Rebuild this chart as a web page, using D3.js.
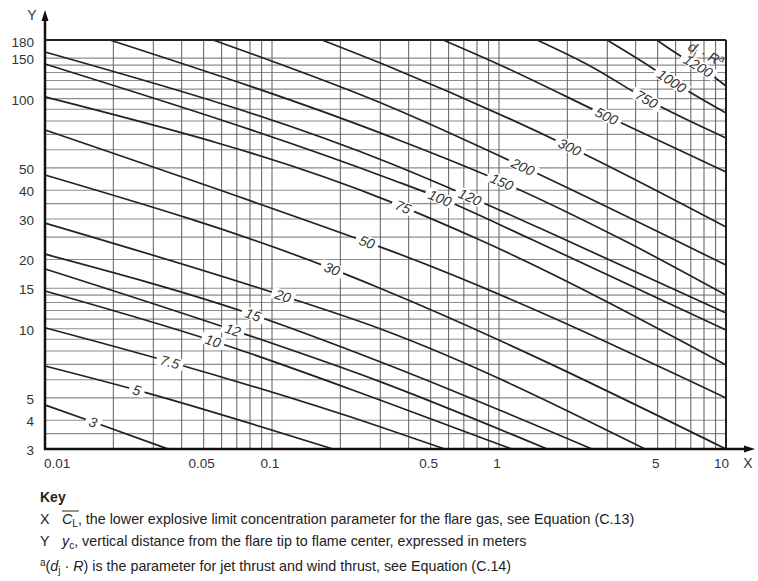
<!DOCTYPE html>
<html>
<head>
<meta charset="utf-8">
<script src="https://cdn.jsdelivr.net/npm/d3@7"></script>
<style>
  body { margin: 0; background: #fff; }
  text { font-family: "Liberation Sans", Arial, sans-serif; }
</style>
</head>
<body>
<svg id="chart" width="758" height="581"></svg>
<script>
//////////// DATA ////////////

var xTickLabels = [0.01, 0.05, 0.1, 0.5, 1, 5, 10];
var yTickLabels = [3, 4, 5, 10, 15, 20, 30, 40, 50, 100, 150, 180];

var xGrid = [0.02, 0.03, 0.04, 0.05, 0.06, 0.07, 0.08, 0.09, 0.1,
             0.2, 0.3, 0.4, 0.5, 0.6, 0.7, 0.8, 0.9, 1,
             2, 3, 4, 5, 6, 7, 8, 9];
var yGrid = [3.5, 4, 5, 6, 7, 8, 9, 10, 11, 12, 13, 14, 15, 20, 25, 30, 35, 40,
             50, 60, 70, 80, 90, 100, 110, 120, 130, 140, 150];

// parameter (dj . R) of each curve
var params = ["3", "5", "7.5", "10", "12", "15", "20", "30", "50", "75",
              "100", "120", "150", "200", "300", "500", "750", "1000", "1200"];

// points  [x, y]
var c3    = [[0.01, 4.66], [0.0163, 3.93], [0.0348, 3.0]];
var c5    = [[0.01, 6.89], [0.0254, 5.41], [0.1856, 3.0]];
var c7_5  = [[0.01, 10.1], [0.0355, 7.17], [0.299, 3.75], [0.578, 3.0]];
var c10   = [[0.01, 14.6], [0.055, 8.85], [0.299, 4.90], [1.14, 3.0]];
var c12   = [[0.01, 18.2], [0.0673, 9.87], [0.299, 5.89], [1.63, 3.0]];
var c15   = [[0.01, 21.1], [0.0825, 11.5], [0.299, 7.19], [2.57, 3.0]];
var c20   = [[0.01, 28.8], [0.1118, 13.9], [0.299, 10.0], [4.40, 3.0]];
var c30   = [[0.01, 46.6], [0.184, 18.2], [0.299, 15.0], [10, 3.0]];
var c50   = [[0.01, 73.1], [0.262, 23.8], [0.299, 22.7], [10, 5.0]];
var c75   = [[0.01, 101.8], [0.331, 35.7], [0.825, 24.3], [10, 6.96]];
var c100  = [[0.01, 141.6], [0.331, 44.8], [0.55, 37.0], [1.41, 24.3], [10, 9.87]];
var c120  = [[0.01, 159.6], [0.331, 52.4], [0.745, 37.4], [1.97, 24.3], [10, 11.7]];
var c150  = [[0.0193, 180], [0.331, 68.4], [1.03, 43.5], [3.52, 24.3], [10, 14.0]];
var c200  = [[0.055, 180], [0.331, 92.3], [1.276, 50.6], [5.96, 24.3], [10, 18.9]];
var c300  = [[0.166, 180], [0.331, 137.4], [2.05, 61.7], [10, 27.7]];
var c500  = [[0.567, 180], [1.01, 140.2], [2.98, 84.1], [10, 48.0]];
var c750  = [[1.47, 180], [2.52, 138.8], [4.47, 99.4], [10, 67.5]];
var c1000 = [[2.99, 180], [4.71, 136.4], [5.77, 119.4], [10, 86.7]];
var c1200 = [[4.95, 180], [6.49, 150.7], [7.55, 138.8], [10, 113.6]];

// x value where each curve carries its label
var labelAt = [0.0163, 0.0254, 0.0355, 0.055, 0.0673, 0.0825, 0.1118, 0.184, 0.262, 0.378,
               0.55, 0.745, 1.03, 1.276, 2.05, 2.98, 4.47, 5.77, 7.55];

var allCurves = [c3, c5, c7_5, c10, c12, c15, c20, c30, c50, c75,
                 c100, c120, c150, c200, c300, c500, c750, c1000, c1200];

//////////// CHART ////////////

var svg = d3.select("#chart");

var x = d3.scaleLog().domain([0.01, 10]).range([45, 726]);
var y = d3.scaleLog().domain([3, 180]).range([449, 40]);

// grid
var grid = svg.append("g").attr("class", "grid");
grid.selectAll(".hg").data(yGrid).enter().append("line")
    .attr("x1", x(0.01)).attr("x2", x(10))
    .attr("y1", function(d) { return y(d); }).attr("y2", function(d) { return y(d); })
    .attr("stroke", "#8c8c8c").attr("stroke-width", 1.2);
grid.selectAll(".vg").data(xGrid).enter().append("line")
    .attr("y1", y(3)).attr("y2", y(180))
    .attr("x1", function(d) { return x(d); }).attr("x2", function(d) { return x(d); })
    .attr("stroke", "#5e5e5e").attr("stroke-width", 1);

// curves
var line = d3.line()
    .x(function(d) { return x(d[0]); })
    .y(function(d) { return y(d[1]); })
    .curve(d3.curveMonotoneX);

var curveG = svg.append("g");
var labelG = svg.append("g");

allCurves.forEach(function(c, i) {
    var p = curveG.append("path").datum(c)
        .attr("d", line)
        .attr("fill", "none")
        .attr("stroke", "#222")
        .attr("stroke-width", 1.7);

    // find the point of the path at the label's x
    var node = p.node(), len = node.getTotalLength(), tx = x(labelAt[i]);
    var lo = 0, hi = len;
    for (var k = 0; k < 30; k++) {
        var mid = (lo + hi) / 2;
        if (node.getPointAtLength(mid).x < tx) lo = mid; else hi = mid;
    }
    var pt = node.getPointAtLength(lo);
    var a = node.getPointAtLength(Math.max(0, lo - 5)),
        b = node.getPointAtLength(Math.min(len, lo + 5));
    var ang = Math.atan2(b.y - a.y, b.x - a.x) * 180 / Math.PI;

    var g = labelG.append("g")
        .attr("transform", "translate(" + pt.x + "," + pt.y + ") rotate(" + ang + ")");
    var t = g.append("text")
        .attr("text-anchor", "middle")
        .attr("dy", "0.36em")
        .style("font-size", "14px")
        .style("font-style", "italic")
        .attr("fill", "#333")
        .text(params[i]);
    var w = t.node().getComputedTextLength();
    g.insert("rect", "text")
        .attr("x", -w / 2 - 4).attr("y", -6)
        .attr("width", w + 8).attr("height", 12)
        .attr("fill", "#fff");

    // header of the parameter labels, above the last one
    if (i == allCurves.length - 1) {
        var h = labelG.append("text")
            .attr("transform", "translate(" + (pt.x + 8) + "," + (pt.y - 12) + ") rotate(" + (ang - 3) + ")")
            .attr("text-anchor", "middle")
            .attr("dy", "0.36em")
            .style("font-size", "14px")
            .attr("fill", "#333");
        h.append("tspan").style("font-style", "italic").text("d");
        h.append("tspan").attr("dy", 3).style("font-size", "10px").text("j");
        h.append("tspan").attr("dy", -3).text(" · ");
        h.append("tspan").style("font-style", "italic").text("R");
        h.append("tspan").attr("dy", -5).style("font-size", "10px").text("a");
    }
});

// border (top and right)
svg.append("line").attr("x1", x(0.01)).attr("x2", x(10)).attr("y1", y(180)).attr("y2", y(180))
    .attr("stroke", "#222").attr("stroke-width", 2);
svg.append("line").attr("x1", x(10)).attr("x2", x(10)).attr("y1", y(180)).attr("y2", y(3))
    .attr("stroke", "#222").attr("stroke-width", 2);

// axes with arrows
svg.append("line").attr("x1", x(0.01)).attr("x2", x(0.01)).attr("y1", y(3) + 1).attr("y2", 18)
    .attr("stroke", "#111").attr("stroke-width", 2.5);
svg.append("path").attr("d", "M" + (x(0.01) - 3.5) + ",21 L" + x(0.01) + ",10 L" + (x(0.01) + 3.5) + ",21 Z")
    .attr("fill", "#111");
svg.append("line").attr("x1", x(0.01) - 1).attr("x2", 747).attr("y1", y(3)).attr("y2", y(3))
    .attr("stroke", "#111").attr("stroke-width", 2.5);
svg.append("path").attr("d", "M744," + (y(3) - 3.5) + " L755," + y(3) + " L744," + (y(3) + 3.5) + " Z")
    .attr("fill", "#111");

svg.append("text").attr("x", 32).attr("y", 15).attr("dy", "0.36em")
    .attr("text-anchor", "middle").style("font-size", "14px").attr("fill", "#333").text("Y");
svg.append("text").attr("x", 748).attr("y", 463).attr("dy", "0.36em")
    .attr("text-anchor", "middle").style("font-size", "14px").attr("fill", "#333").text("X");

// tick labels
svg.selectAll(".ylab").data(yTickLabels).enter().append("text")
    .attr("x", 34)
    .attr("y", function(d) { return y(d) + (d == 180 ? 2 : 1); })
    .attr("dy", "0.36em")
    .attr("text-anchor", "end")
    .style("font-size", "13.5px")
    .attr("fill", "#333")
    .text(function(d) { return d; });

svg.selectAll(".xlab").data(xTickLabels).enter().append("text")
    .attr("x", function(d, i) {
        if (i == 0) return x(d) - 1;
        if (i == xTickLabels.length - 1) return x(d) + 3;
        return x(d) - 2;
    })
    .attr("y", 463)
    .attr("dy", "0.36em")
    .attr("text-anchor", function(d, i) {
        if (i == 0) return "start";
        if (i == xTickLabels.length - 1) return "end";
        return "middle";
    })
    .style("font-size", "13.5px")
    .attr("fill", "#333")
    .text(function(d) { return d; });

//////////// KEY ////////////

var keyTitle = "Key";
var keyX = ", the lower explosive limit concentration parameter for the flare gas, see Equation (C.13)";
var keyY = ", vertical distance from the flare tip to flame center, expressed in meters";
var keyA = ") is the parameter for jet thrust and wind thrust, see Equation (C.14)";

var key = svg.append("g").style("font-size", "14.3px").attr("fill", "#222");

key.append("text").attr("x", 40).attr("y", 502)
    .style("font-weight", "bold").style("font-size", "14px").text(keyTitle);

key.append("text").attr("x", 40).attr("y", 524).text("X");
var kx = key.append("text").attr("x", 62).attr("y", 524);
kx.append("tspan").style("font-style", "italic").text("C");
kx.append("tspan").attr("dy", 3).style("font-size", "10px").text("L");
kx.append("tspan").attr("dy", -3).text(keyX);
// bar over C_L
var e0 = kx.node().getExtentOfChar(0), e1 = kx.node().getExtentOfChar(1);
key.append("line")
    .attr("x1", e0.x).attr("x2", e1.x + e1.width + 1)
    .attr("y1", e0.y).attr("y2", e0.y)
    .attr("stroke", "#222").attr("stroke-width", 1);

key.append("text").attr("x", 40).attr("y", 546).text("Y");
var ky = key.append("text").attr("x", 62).attr("y", 546);
ky.append("tspan").style("font-style", "italic").text("y");
ky.append("tspan").attr("dy", 3).style("font-size", "10px").text("c");
ky.append("tspan").attr("dy", -3).text(keyY);

var ka = key.append("text").attr("x", 40).attr("y", 571);
ka.append("tspan").attr("dy", -5).style("font-size", "10px").text("a");
ka.append("tspan").attr("dy", 5).text("(");
ka.append("tspan").style("font-style", "italic").text("d");
ka.append("tspan").attr("dy", 3).style("font-size", "10px").text("j");
ka.append("tspan").attr("dy", -3).text(" · ");
ka.append("tspan").style("font-style", "italic").text("R");
ka.append("tspan").text(keyA);
</script>
</body>
</html>
